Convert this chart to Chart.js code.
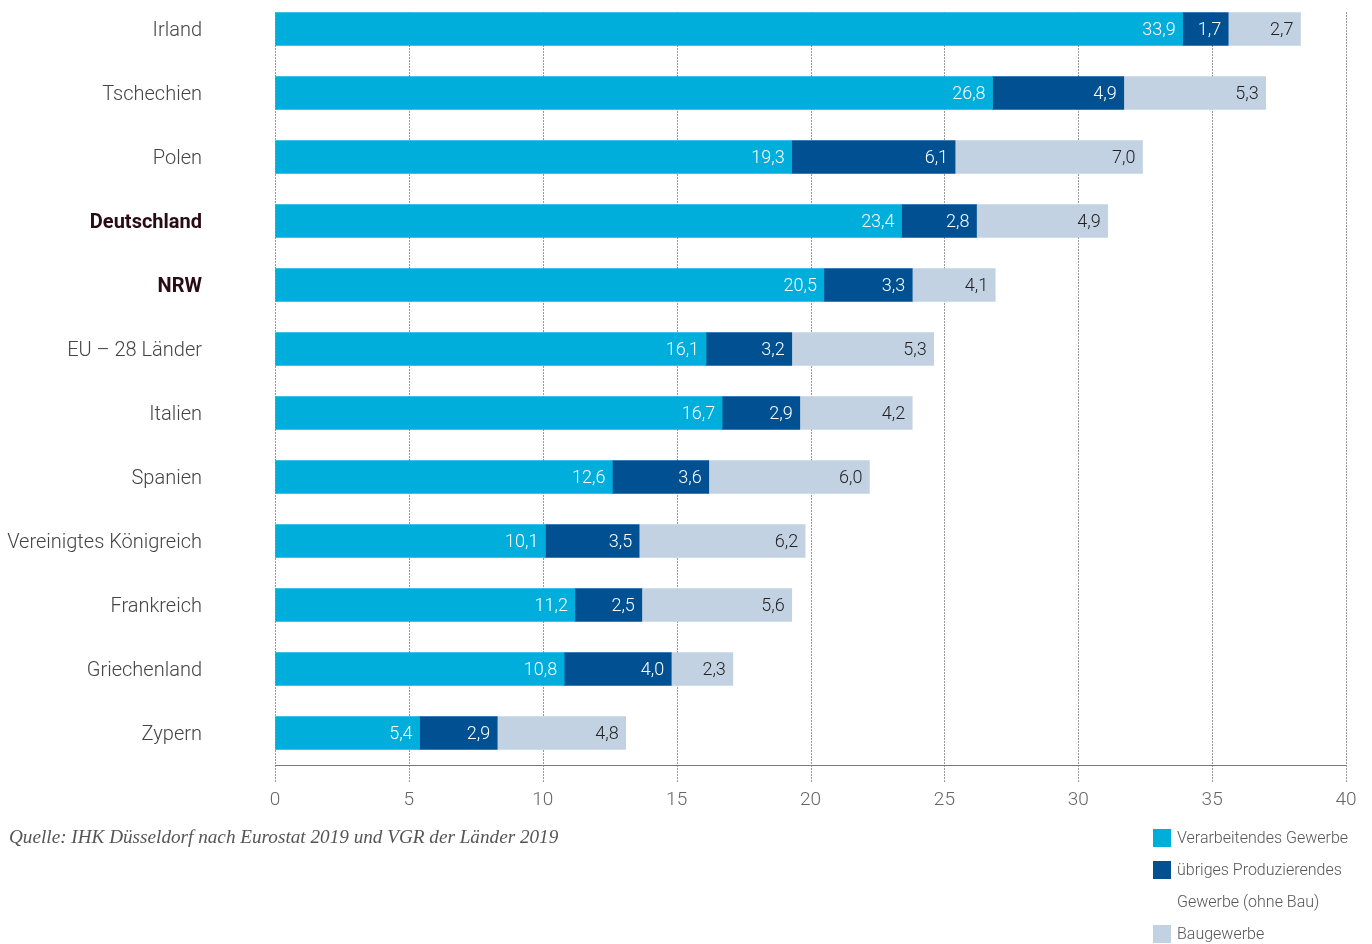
<!DOCTYPE html>
<html><head><meta charset="utf-8">
<script src="https://cdn.jsdelivr.net/npm/chart.js@4"></script>
<style>
html,body{margin:0;padding:0;background:#fff;width:1372px;height:944px;overflow:hidden;position:relative;font-family:Roboto,"Open Sans",sans-serif;}
#wrap{position:absolute;left:0;top:-3px;width:1372px;height:848px;}
#src{position:absolute;left:9px;top:826px;font-family:"Liberation Serif",serif;font-style:italic;font-size:19.2px;color:#555;white-space:nowrap;}
.lg{position:absolute;left:1153px;font-size:16px;font-weight:300;color:#555;white-space:nowrap;}
.sw{position:absolute;left:0;top:1px;width:18px;height:18px;}
.lg span{position:absolute;left:24px;top:0;}
</style></head><body>
<div id="wrap"><canvas id="c" width="1372" height="848"></canvas></div>
<div id="src">Quelle: IHK Düsseldorf nach Eurostat 2019 und VGR der Länder 2019</div>
<div class="lg" style="top:828px"><div class="sw" style="background:#00AEDC"></div><span>Verarbeitendes Gewerbe</span></div>
<div class="lg" style="top:860px"><div class="sw" style="background:#005092"></div><span>übriges Produzierendes</span></div>
<div class="lg" style="top:892px"><span>Gewerbe (ohne Bau)</span></div>
<div class="lg" style="top:924px"><div class="sw" style="background:#C3D2E3"></div><span>Baugewerbe</span></div>
<script>
const categories = ["Irland","Tschechien","Polen","Deutschland","NRW","EU – 28 Länder","Italien","Spanien","Vereinigtes Königreich","Frankreich","Griechenland","Zypern"];
const boldCategories = ["Deutschland","NRW"];
const verarbeitend = [33.9,26.8,19.3,23.4,20.5,16.1,16.7,12.6,10.1,11.2,10.8,5.4];
const uebriges = [1.7,4.9,6.1,2.8,3.3,3.2,2.9,3.6,3.5,2.5,4.0,2.9];
// bar lengths as drawn in the picture (NRW's segment is drawn at 3.1 although printed 4,1)
const bau = [2.7,5.3,7.0,4.9,3.1,5.3,4.2,6.0,6.2,5.6,2.3,4.8];
// values as printed on the bars
const verarbeitendLabels = ["33,9","26,8","19,3","23,4","20,5","16,1","16,7","12,6","10,1","11,2","10,8","5,4"];
const uebrigesLabels = ["1,7","4,9","6,1","2,8","3,3","3,2","2,9","3,6","3,5","2,5","4,0","2,9"];
const bauLabels = ["2,7","5,3","7,0","4,9","4,1","5,3","4,2","6,0","6,2","5,6","2,3","4,8"];
const xTicks = [0,5,10,15,20,25,30,35,40];
const seriesNames = ["Verarbeitendes Gewerbe","übriges Produzierendes Gewerbe (ohne Bau)","Baugewerbe"];
const FONT = "Roboto";
const printed = [verarbeitendLabels, uebrigesLabels, bauLabels];

const gridPlugin = {
  id:'dotgrid',
  beforeDatasetsDraw(chart){
    const ctx = chart.ctx, xs = chart.scales.x, area = chart.chartArea;
    const first = chart.getDatasetMeta(0).data[0];
    const top = first.y - first.height/2;
    ctx.save();
    ctx.strokeStyle = '#333';
    ctx.lineWidth = 1;
    ctx.setLineDash([1,2]);
    xs.ticks.forEach(t=>{
      const x = Math.round(xs.getPixelForValue(t.value)) + 0.5;
      ctx.beginPath(); ctx.moveTo(x, top); ctx.lineTo(x, area.bottom + 17); ctx.stroke();
    });
    ctx.setLineDash([]);
    ctx.strokeStyle = '#777';
    ctx.beginPath();
    ctx.moveTo(area.left, Math.round(area.bottom)+0.5);
    ctx.lineTo(area.right, Math.round(area.bottom)+0.5);
    ctx.stroke();
    ctx.restore();
  }
};

const labelPlugin = {
  id:'vals',
  afterDatasetsDraw(chart){
    const ctx = chart.ctx;
    ctx.save();
    ctx.font = "300 18px " + FONT;
    ctx.textAlign = 'right';
    ctx.textBaseline = 'middle';
    chart.data.datasets.forEach((ds,di)=>{
      const meta = chart.getDatasetMeta(di);
      meta.data.forEach((bar,i)=>{
        ctx.fillStyle = di===2 ? '#222' : '#fff';
        ctx.fillText(printed[di][i], bar.x - 7, bar.y + 1);
      });
    });
    ctx.restore();
  }
};

new Chart(document.getElementById('c'),{
  type:'bar',
  data:{
    labels:categories,
    datasets:[
      {label:seriesNames[0],data:verarbeitend,backgroundColor:'#00AEDC'},
      {label:seriesNames[1],data:uebriges,backgroundColor:'#005092'},
      {label:seriesNames[2],data:bau,backgroundColor:'#C3D2E3'}
    ]
  },
  options:{
    indexAxis:'y',
    responsive:false,
    animation:false,
    devicePixelRatio:1,
    barThickness:33,
    layout:{padding:{left:0,right:26,top:0,bottom:20}},
    plugins:{legend:{display:false},tooltip:{enabled:false}},
    scales:{
      x:{
        stacked:true,min:0,max:40,
        afterBuildTicks(s){ s.ticks = xTicks.map(v=>({value:v})); },
        afterFit(s){ s.height = 60; },
        grid:{display:true,drawOnChartArea:false,drawTicks:true,tickLength:16,tickColor:'rgba(0,0,0,0)'},
        border:{display:false},
        ticks:{font:{family:FONT,size:19,weight:'300'},color:'#666',padding:8}
      },
      y:{
        stacked:true,
        afterFit(s){ s.width = 275; s.paddingTop = 0; s.paddingBottom = 0; },
        grid:{display:true,drawOnChartArea:false,drawTicks:true,tickLength:73,tickColor:'rgba(0,0,0,0)'},
        border:{display:false},
        ticks:{
          padding:0,
          labelOffset:2,
          font(ctx){ const b = boldCategories.includes(categories[ctx.index]); return {family:FONT,size:20,weight:b?'bold':'300'}; },
          color(ctx){ return boldCategories.includes(categories[ctx.index]) ? '#2a0a14' : '#444'; }
        }
      }
    }
  },
  plugins:[gridPlugin,labelPlugin]
});
</script>
</body></html>
